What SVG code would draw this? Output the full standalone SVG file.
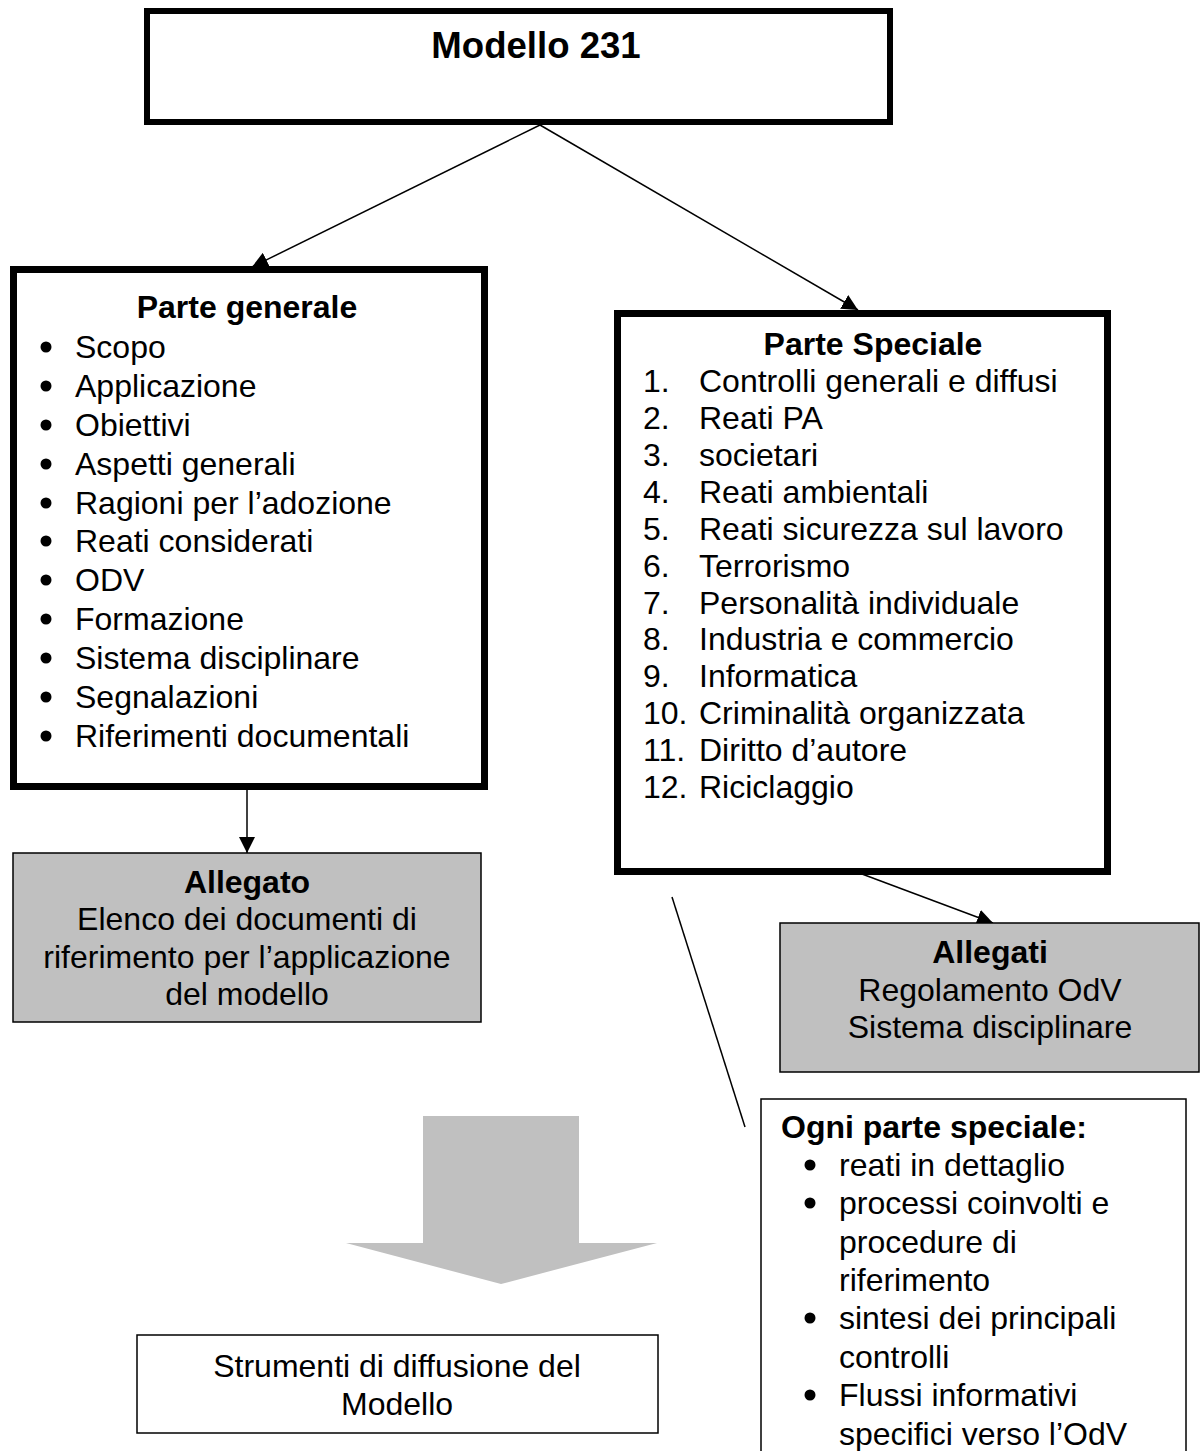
<svg xmlns="http://www.w3.org/2000/svg" width="1202" height="1451" viewBox="0 0 1202 1451">
<defs>
<style>
text{font-family:"Liberation Sans",Arial,sans-serif;font-size:32px;fill:#000}
.b{font-weight:bold}
.c{text-anchor:middle}
.thick{fill:#fff;stroke:#000;stroke-width:7}
.thin{fill:#fff;stroke:#000;stroke-width:1.5}
.gray{fill:#c0c0c0;stroke:#000;stroke-width:1.5}
.conn line{stroke:#000;stroke-width:1.5}
</style>
<marker id="ah" markerUnits="userSpaceOnUse" markerWidth="18" markerHeight="16" refX="16" refY="8" orient="auto">
<path d="M0,0 L16,8 L0,16 Z" fill="#000"/>
</marker>
</defs>
<rect width="1202" height="1451" fill="#fff"/>

<g id="connectors" class="conn">
<line x1="540" y1="125" x2="252" y2="267" marker-end="url(#ah)"/>
<line x1="540" y1="125" x2="858" y2="310" marker-end="url(#ah)"/>
<line x1="247" y1="790" x2="247" y2="853" marker-end="url(#ah)"/>
<line x1="862" y1="874" x2="993" y2="923" marker-end="url(#ah)"/>
<line x1="672" y1="897" x2="745" y2="1127"/>
</g>

<g id="modello231">
<rect class="thick" x="147" y="11" width="743" height="111" style="stroke-width:6"/>
<text class="b c" x="536" y="58" style="font-size:36.6px">Modello 231</text>
</g>

<g id="parte-generale">
<rect class="thick" x="13.5" y="269.5" width="471" height="517"/>
<text class="b c" x="247" y="318">Parte generale</text>
<g>
<circle cx="46" cy="347" r="5.5"/><circle cx="46" cy="386" r="5.5"/><circle cx="46" cy="425" r="5.5"/><circle cx="46" cy="464" r="5.5"/><circle cx="46" cy="503" r="5.5"/><circle cx="46" cy="541" r="5.5"/><circle cx="46" cy="580" r="5.5"/><circle cx="46" cy="619" r="5.5"/><circle cx="46" cy="658" r="5.5"/><circle cx="46" cy="697" r="5.5"/><circle cx="46" cy="736" r="5.5"/>
</g>
<text x="75" y="358">Scopo</text>
<text x="75" y="397">Applicazione</text>
<text x="75" y="436">Obiettivi</text>
<text x="75" y="475">Aspetti generali</text>
<text x="75" y="514">Ragioni per l’adozione</text>
<text x="75" y="552">Reati considerati</text>
<text x="75" y="591">ODV</text>
<text x="75" y="630">Formazione</text>
<text x="75" y="669">Sistema disciplinare</text>
<text x="75" y="708">Segnalazioni</text>
<text x="75" y="747">Riferimenti documentali</text>
</g>

<g id="parte-speciale">
<rect class="thick" x="617.5" y="313.5" width="490" height="558"/>
<text class="b c" x="873" y="355">Parte Speciale</text>
<text x="643" y="392">1.</text><text x="699" y="392">Controlli generali e diffusi</text>
<text x="643" y="429">2.</text><text x="699" y="429">Reati PA</text>
<text x="643" y="466">3.</text><text x="699" y="466">societari</text>
<text x="643" y="503">4.</text><text x="699" y="503">Reati ambientali</text>
<text x="643" y="540">5.</text><text x="699" y="540">Reati sicurezza sul lavoro</text>
<text x="643" y="577">6.</text><text x="699" y="577">Terrorismo</text>
<text x="643" y="614">7.</text><text x="699" y="614">Personalità individuale</text>
<text x="643" y="650">8.</text><text x="699" y="650">Industria e commercio</text>
<text x="643" y="687">9.</text><text x="699" y="687">Informatica</text>
<text x="643" y="724">10.</text><text x="699" y="724">Criminalità organizzata</text>
<text x="643" y="761">11.</text><text x="699" y="761">Diritto d’autore</text>
<text x="643" y="798">12.</text><text x="699" y="798">Riciclaggio</text>
</g>

<g id="allegato">
<rect class="gray" x="13" y="853" width="468" height="169"/>
<text class="b c" x="247" y="893">Allegato</text>
<text class="c" x="247" y="930">Elenco dei documenti di</text>
<text class="c" x="247" y="968">riferimento per l’applicazione</text>
<text class="c" x="247" y="1005">del modello</text>
</g>

<g id="allegati">
<rect class="gray" x="780" y="923" width="419" height="149"/>
<text class="b c" x="990" y="963">Allegati</text>
<text class="c" x="990" y="1001">Regolamento OdV</text>
<text class="c" x="990" y="1038">Sistema disciplinare</text>
</g>

<g id="freccia-diffusione">
<polygon points="423,1116 579,1116 579,1243 657,1243 501,1284 346,1243 423,1243" fill="#c0c0c0"/>
</g>

<g id="strumenti">
<rect class="thin" x="137" y="1335" width="521" height="98"/>
<text class="c" x="397" y="1377">Strumenti di diffusione del</text>
<text class="c" x="397" y="1415">Modello</text>
</g>

<g id="ogni-parte-speciale">
<rect class="thin" x="761" y="1099" width="425" height="370"/>
<text class="b" x="781" y="1138">Ogni parte speciale:</text>
<circle cx="810" cy="1165" r="5.5"/><circle cx="810" cy="1203" r="5.5"/><circle cx="810" cy="1318" r="5.5"/><circle cx="810" cy="1395" r="5.5"/>
<text x="839" y="1176">reati in dettaglio</text>
<text x="839" y="1214">processi coinvolti e</text>
<text x="839" y="1253">procedure di</text>
<text x="839" y="1291">riferimento</text>
<text x="839" y="1329">sintesi dei principali</text>
<text x="839" y="1368">controlli</text>
<text x="839" y="1406">Flussi informativi</text>
<text x="839" y="1445">specifici verso l’OdV</text>
</g>
</svg>
